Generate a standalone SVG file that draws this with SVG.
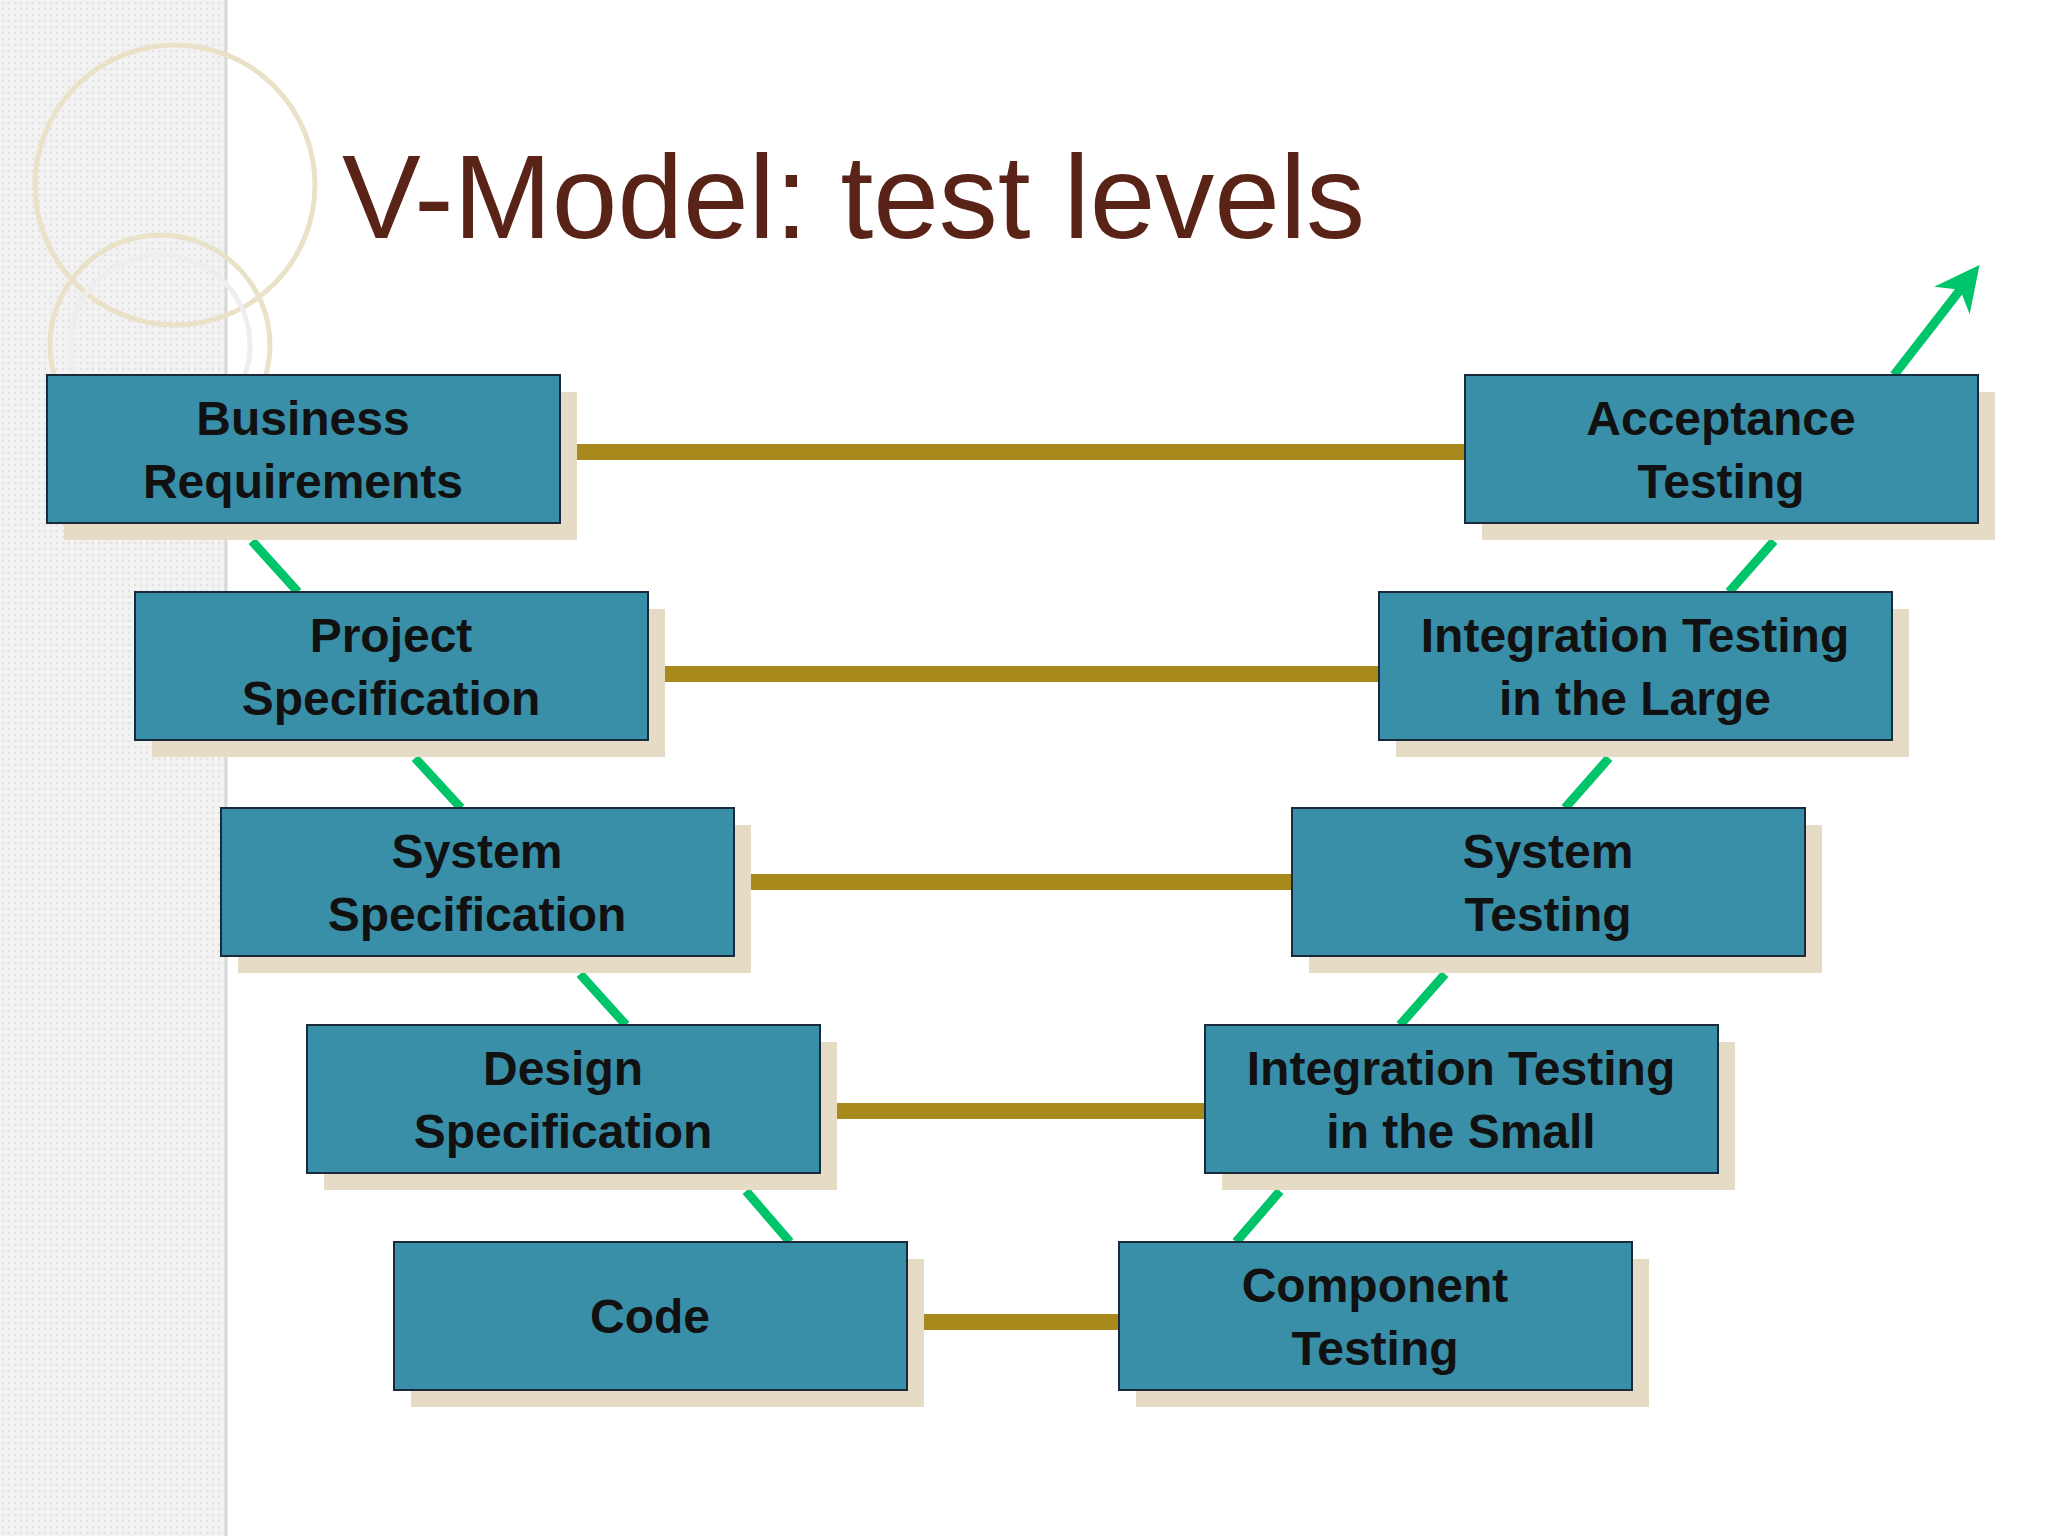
<svg xmlns="http://www.w3.org/2000/svg" width="2048" height="1536" viewBox="0 0 2048 1536">
<defs>
<pattern id="dots" width="6" height="6" patternUnits="userSpaceOnUse"><rect width="6" height="6" fill="#f2f2f2"/><circle cx="3" cy="3" r="1.2" fill="#e2e2e2"/></pattern>
<marker id="ah" viewBox="0 0 10 10" refX="8" refY="5" markerWidth="5" markerHeight="5" orient="auto"><path d="M0,0 L10,5 L0,10 L3,5 z" fill="#00c46a"/></marker>
</defs>
<style>
.sh{fill:#e6dcc6}
.bx{fill:#3a8fa8;stroke:#1a2a3a;stroke-width:2}
.t{font-family:"Liberation Sans",Arial,sans-serif;font-weight:bold;font-size:48px;fill:#111;text-anchor:middle}
.g{stroke:#a88a1c;stroke-width:16}
.v{stroke:#00c46a;stroke-width:9;fill:none}
</style>
<rect width="2048" height="1536" fill="#fff"/>
<rect width="226" height="1536" fill="url(#dots)"/>
<line x1="226" y1="0" x2="226" y2="1536" stroke="#d8d8d8" stroke-width="3"/>
<g fill="none" stroke="#e9e2c8" stroke-width="5">
<circle cx="175" cy="185" r="140"/>
<circle cx="160" cy="345" r="110"/>
<circle cx="160" cy="345" r="90" stroke="#eee"/>
</g>
<text x="342" y="238" font-family="Liberation Sans,Arial,sans-serif" font-size="118" fill="#5a2318">V-Model: test levels</text>
<g id="connectors">
<line class="g" x1="560" y1="452" x2="1465" y2="452"/>
<line class="g" x1="648" y1="674" x2="1379" y2="674"/>
<line class="g" x1="734" y1="882" x2="1292" y2="882"/>
<line class="g" x1="820" y1="1111" x2="1205" y2="1111"/>
<line class="g" x1="907" y1="1322" x2="1119" y2="1322"/>
<line class="v" x1="252" y1="541" x2="298" y2="592"/>
<line class="v" x1="415" y1="758" x2="461" y2="808"/>
<line class="v" x1="580" y1="974" x2="626" y2="1025"/>
<line class="v" x1="746" y1="1191" x2="790" y2="1242"/>
<line class="v" x1="1774" y1="541" x2="1729" y2="592"/>
<line class="v" x1="1609" y1="758" x2="1565" y2="808"/>
<line class="v" x1="1445" y1="974" x2="1400" y2="1025"/>
<line class="v" x1="1280" y1="1191" x2="1236" y2="1242"/>
<line class="v" x1="1894" y1="375" x2="1974" y2="272" marker-end="url(#ah)"/>
</g>
<g id="br"><rect class="sh" x="64" y="392" width="513" height="148"/><rect class="bx" x="47" y="375" width="513" height="148"/><text class="t" x="303" y="435">Business</text><text class="t" x="303" y="498">Requirements</text></g>
<g id="ps"><rect class="sh" x="152" y="609" width="513" height="148"/><rect class="bx" x="135" y="592" width="513" height="148"/><text class="t" x="391" y="652">Project</text><text class="t" x="391" y="715">Specification</text></g>
<g id="ss"><rect class="sh" x="238" y="825" width="513" height="148"/><rect class="bx" x="221" y="808" width="513" height="148"/><text class="t" x="477" y="868">System</text><text class="t" x="477" y="931">Specification</text></g>
<g id="ds"><rect class="sh" x="324" y="1042" width="513" height="148"/><rect class="bx" x="307" y="1025" width="513" height="148"/><text class="t" x="563" y="1085">Design</text><text class="t" x="563" y="1148">Specification</text></g>
<g id="code"><rect class="sh" x="411" y="1259" width="513" height="148"/><rect class="bx" x="394" y="1242" width="513" height="148"/><text class="t" x="650" y="1333">Code</text></g>
<g id="at"><rect class="sh" x="1482" y="392" width="513" height="148"/><rect class="bx" x="1465" y="375" width="513" height="148"/><text class="t" x="1721" y="435">Acceptance</text><text class="t" x="1721" y="498">Testing</text></g>
<g id="itl"><rect class="sh" x="1396" y="609" width="513" height="148"/><rect class="bx" x="1379" y="592" width="513" height="148"/><text class="t" x="1635" y="652">Integration Testing</text><text class="t" x="1635" y="715">in the Large</text></g>
<g id="st"><rect class="sh" x="1309" y="825" width="513" height="148"/><rect class="bx" x="1292" y="808" width="513" height="148"/><text class="t" x="1548" y="868">System</text><text class="t" x="1548" y="931">Testing</text></g>
<g id="its"><rect class="sh" x="1222" y="1042" width="513" height="148"/><rect class="bx" x="1205" y="1025" width="513" height="148"/><text class="t" x="1461" y="1085">Integration Testing</text><text class="t" x="1461" y="1148">in the Small</text></g>
<g id="ct"><rect class="sh" x="1136" y="1259" width="513" height="148"/><rect class="bx" x="1119" y="1242" width="513" height="148"/><text class="t" x="1375" y="1302">Component</text><text class="t" x="1375" y="1365">Testing</text></g>
</svg>
